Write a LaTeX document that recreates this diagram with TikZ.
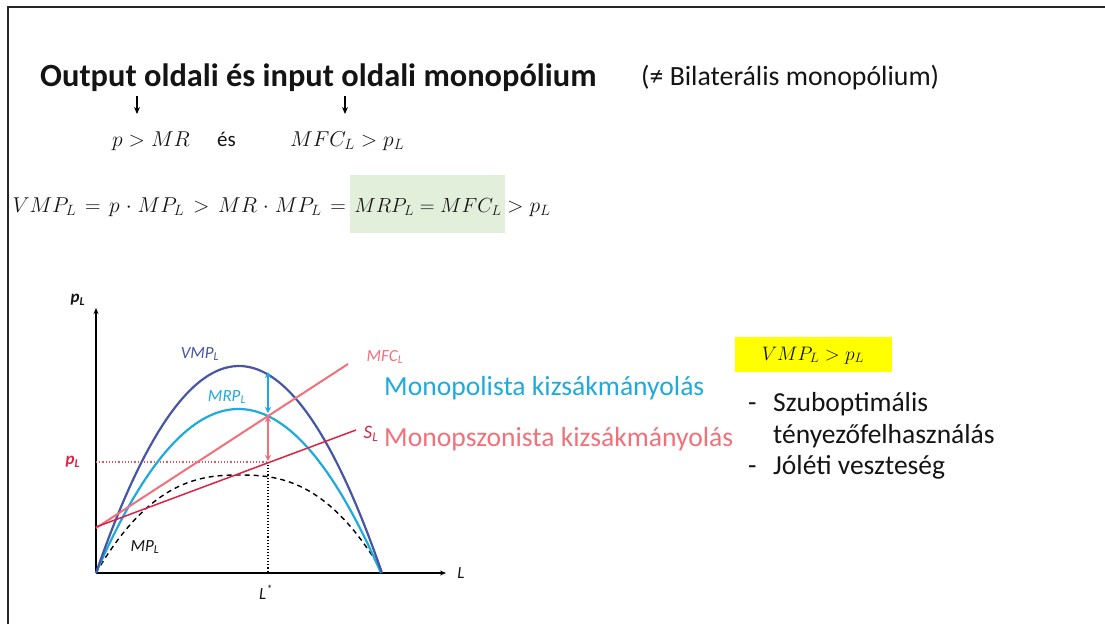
\documentclass[tikz,border=0pt]{standalone}
\usepackage{graphicx}
\usepackage{fontspec}
\setmainfont{Carlito}
\usetikzlibrary{arrows.meta}
\definecolor{vmpc}{RGB}{70,86,165}
\definecolor{mrpc}{RGB}{30,170,220}
\definecolor{mfcc}{RGB}{242,112,122}
\definecolor{slc}{RGB}{220,35,70}
\definecolor{greenbox}{RGB}{226,239,218}
\definecolor{yellowbox}{RGB}{255,255,0}
\definecolor{txt}{RGB}{20,20,20}
\newcommand{\mymath}[1]{\scalebox{1.037}{$#1$}}
\tikzset{
  lbl/.style={inner sep=0pt, text=txt},
  mathlbl/.style={inner sep=0pt, font=\fontsize{20.74}{24}\selectfont, text=txt},
  glbl/.style={inner sep=0pt, font=\fontsize{17}{20}\selectfont\itshape},
  axis/.style={line width=1.3pt, -{Stealth[length=6pt,width=5pt]}},
  curve/.style={line width=2.2pt},
  dbl/.style={line width=1.4pt, {Stealth[length=6pt,width=6pt]}-{Stealth[length=6pt,width=6pt]}},
  downarr/.style={line width=1.1pt, -{Stealth[length=7pt,width=6pt]}},
  bullet/.style={lbl, anchor=west, font=\fontsize{27.5}{32}\selectfont},
  dashmark/.style={lbl, anchor=base west, font=\fontsize{27.5}{32}\selectfont, xshift=-25pt}
}
\begin{document}
\begin{tikzpicture}[x=1pt,y=-1pt]
\useasboundingbox (0,0) rectangle (1105,624);
% frame
\draw[line width=1.5pt, black!85] (8,624) -- (8,7) -- (1105,7);

% title
\node[lbl, anchor=west, font=\fontsize{32.4}{38}\selectfont\bfseries] (title) at (40,78) {Output oldali és input oldali monopólium};
\node[lbl, anchor=west, font=\fontsize{27.8}{32}\selectfont] (bilat) at (641,78) {(≠ Bilaterális monopólium)};

% arrows
\coordinate (a1s) at (137,96); \coordinate (a1e) at (137,114);
\coordinate (a2s) at (345,96); \coordinate (a2e) at (345,114);
\draw[downarr] (a1s) -- (a1e);
\draw[downarr] (a2s) -- (a2e);

\node[mathlbl, anchor=base west] (pmr) at (112,146) {\mymath{p > MR}};
\node[lbl, anchor=base west, font=\fontsize{21}{24}\selectfont] (es) at (217,146) {és};
\node[mathlbl, anchor=base west] (mfcp) at (290,146) {\mymath{MFC_L > p_L}};

% green box
\fill[greenbox] (350,175) rectangle (505,233);
\node[mathlbl, anchor=base east] (eqa) at (346,212) {\mymath{\thickmuskip=7.3mu\medmuskip=5mu VMP_L = p\cdot MP_L > MR\cdot MP_L =}};
\node[mathlbl, anchor=base] (eqb) at (428,212) {\scalebox{0.985}{$MRP_L = MFC_L$}};
\node[mathlbl, anchor=base west] (eqc) at (507,212) {\mymath{> p_L}};

% graph
\coordinate (O) at (96,573);
\coordinate (ytop) at (96,308);
\coordinate (xend) at (446,573);
\draw[axis] (O) -- (ytop);
\draw[axis] (O) -- (xend);
\node[glbl, text=txt, font=\fontsize{17}{20}\selectfont\bfseries\itshape] (plab) at (78,300) {p\textsubscript{L}};
\node[glbl, text=txt] (llab) at (461,573) {L};
\node[glbl, text=txt] (lstar) at (266,592) {L\textsuperscript{*}};

% dotted guides
\coordinate (pLy) at (96,462);
\coordinate (Lp) at (268,462);
\coordinate (Lx) at (268,573);
\draw[mfcc!70!red, dotted, line width=1.2pt] (pLy) -- (Lp);
\draw[black, dotted, line width=1.1pt] (Lp) -- (Lx);
\node[glbl, text=slc, font=\fontsize{17}{20}\selectfont\bfseries\itshape] (plred) at (73,462) {p\textsubscript{L}};

% MP dashed
\draw[black, dashed, line width=1.4pt, dash pattern=on 5pt off 4pt] plot[domain=96:383, samples=80] (\x, {573 - 98*(1-(abs((\x-239.5)/143.5))^2.5)});
% MRP
\draw[curve, mrpc] plot[domain=96:381, samples=70] (\x, {573 - 164*(1-((\x-238.5)/142.5)^2)});
% VMP
\draw[curve, vmpc] plot[domain=96:382, samples=70] (\x, {573 - 207*(1-((\x-239)/143)^2)});

% MFC and S lines
\coordinate (mfc1) at (96,528); \coordinate (mfc2) at (348,364);
\coordinate (s1) at (96,527); \coordinate (s2) at (356,430);
\draw[mfcc, line width=2pt] (mfc1) -- (mfc2);
\draw[slc, line width=1.5pt] (s1) -- (s2);

% double arrows
\coordinate (v) at (268,372); \coordinate (m1) at (268,413);
\coordinate (m2) at (268,416); \coordinate (s) at (268,461);
\draw[dbl, mrpc] (v) -- (m1);
\draw[dbl, mfcc] (m2) -- (s);

% curve labels
\node[glbl, text=vmpc] (vmpl) at (200,354) {VMP\textsubscript{L}};
\node[glbl, text=mrpc] (mrpl) at (227,397) {MRP\textsubscript{L}};
\node[glbl, text=mfcc] (mfcl) at (385,357) {MFC\textsubscript{L}};
\node[glbl, text=slc, font=\fontsize{19}{22}\selectfont\itshape] (sl) at (371,434) {S\textsubscript{L}};
\node[glbl, text=txt] (mpl) at (145,547) {MP\textsubscript{L}};

% middle labels
\node[lbl, anchor=west, text=mrpc, font=\fontsize{27.6}{32}\selectfont] (mono) at (384,388) {Monopolista kizsákmányolás};
\node[lbl, anchor=west, text=mfcc, font=\fontsize{27.6}{32}\selectfont] (monops) at (384,439) {Monopszonista kizsákmányolás};

% right side
\fill[yellowbox] (735,337) rectangle (892,372);
\node[mathlbl, anchor=base] (vmpp) at (813,360) {\scalebox{0.94}{$VMP_L > p_L$}};
\node[bullet] (b1) at (773,404) {Szuboptimális};
\node[bullet] (b1b) at (773,436) {tényezőfelhasználás};
\node[bullet] (b2) at (773,467) {Jóléti veszteség};
\node[dashmark] (b1d) at (b1.base west) {-};
\node[dashmark] (b2d) at (b2.base west) {-};
\end{tikzpicture}
\end{document}
